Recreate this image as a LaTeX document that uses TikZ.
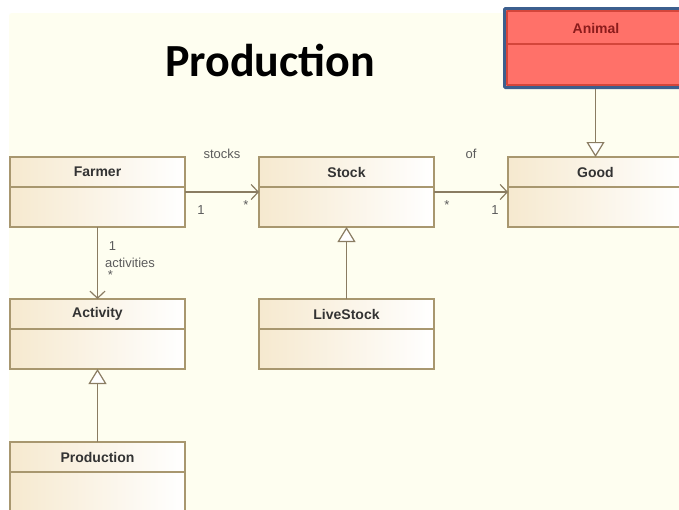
\documentclass[tikz,border=0pt]{standalone}
\usepackage{fontspec}
\setmainfont{Liberation Sans}
\newfontfamily\titlefont{Carlito}
\usetikzlibrary{arrows.meta}

\definecolor{paper}{HTML}{FEFEF0}
\definecolor{umlborder}{HTML}{A8976F}
\definecolor{umlfill}{HTML}{F6E9CF}
\definecolor{umlline}{HTML}{8A7C62}
\definecolor{umltext}{HTML}{333333}
\definecolor{animalblue}{HTML}{3C5F8E}
\definecolor{animalred}{HTML}{FF7169}
\definecolor{animaledge}{HTML}{D4463B}
\definecolor{animaltext}{HTML}{8C1C1C}

\tikzset{
  classbox/.style={draw=umlborder, line width=1.2pt, left color=umlfill, right color=white,
    minimum width=175pt, minimum height=70pt, inner sep=0pt, outer sep=0pt, anchor=north west},
  classline/.style={draw=umlborder, line width=1.2pt},
  classname/.style={font=\bfseries\fontsize{14}{16}\selectfont, text=umltext},
  assoc/.style={draw=umlline, line width=1.2pt, -{Straight Barb[length=7pt,width=15pt]}},
  generalize/.style={draw=umlline, line width=1.2pt, -{Triangle[open,length=15pt,width=18pt,fill=white]}},
  rolelabel/.style={font=\fontsize{13}{15}\selectfont, text=umltext!80},
}

% name, left, top, label
\newcommand{\umlclass}[4]{%
  \node[classbox] (#1) at (#2,#3) {};
  \draw[classline] ([yshift=-30pt]#1.north west) -- ([yshift=-30pt]#1.north east);
  \node[classname] (#1-name) at ([yshift=-15pt]#1.north) {#4};
}

\begin{document}
\begin{tikzpicture}[x=1pt,y=-1pt]
  \useasboundingbox (0,0) rectangle (679,509);
  \clip (0,0) rectangle (679,509);
  \fill[white] (0,0) rectangle (679,509);
  \fill[paper, rounded corners=3pt] (9,13) rectangle (700,530);

  % title
  \node[font=\titlefont\bfseries\fontsize{46}{50}\selectfont] (title) at (270,60) {Production};

  % classes
  \umlclass{farmer}{10}{157}{Farmer}
  \umlclass{stock}{259}{157}{Stock}
  \umlclass{good}{508}{157}{Good}
  \umlclass{activity}{10}{299}{Activity}
  \umlclass{livestock}{259}{299}{LiveStock}
  \umlclass{production}{10}{442}{Production}

  % animal (highlighted)
  \node[draw=animalblue, line width=3pt, fill=animalred, rounded corners=1pt,
    minimum width=187pt, minimum height=79pt, anchor=north west] (animal) at (503,7) {};
  \draw[animaledge, line width=1.2pt] ([xshift=4pt,yshift=-4pt]animal.north west) -- ([xshift=-4pt,yshift=-4pt]animal.north east);
  \draw[animaledge, line width=1.2pt] ([xshift=4pt,yshift=-37pt]animal.north west) -- ([xshift=-4pt,yshift=-37pt]animal.north east);
  \draw[animaledge, line width=1.2pt] ([xshift=4pt,yshift=-4pt]animal.north west) -- ([xshift=4pt,yshift=4pt]animal.south west);
  \draw[animaledge, line width=1.2pt] ([xshift=4pt,yshift=4pt]animal.south west) -- ([xshift=-4pt,yshift=4pt]animal.south east);
  \node[classname, text=animaltext] (animal-name) at ([xshift=-2pt,yshift=-21pt]animal.north) {Animal};

  % associations
  \draw[assoc] (farmer.east) -- (stock.west);
  \draw[assoc] (stock.east) -- (good.west);
  \draw[assoc] (farmer.south) -- (activity.north);
  \node[rolelabel] (stocks) at ([xshift=37pt,yshift=38pt]farmer.east) {stocks};
  \node[rolelabel] (farmer-one) at ([xshift=16pt,yshift=-18pt]farmer.east) {1};
  \node[rolelabel] (stock-many) at ([xshift=-13pt,yshift=-13pt]stock.west) {*};
  \node[rolelabel] (of) at ([xshift=37pt,yshift=38pt]stock.east) {of};
  \node[rolelabel] (stock-many2) at ([xshift=13pt,yshift=-13pt]stock.east) {*};
  \node[rolelabel] (good-one) at ([xshift=-13pt,yshift=-18pt]good.west) {1};
  \node[rolelabel] (act-one) at ([xshift=15pt,yshift=-19pt]farmer.south) {1};
  \node[rolelabel, anchor=west] (activities) at ([xshift=4pt,yshift=-36pt]farmer.south) {activities};
  \node[rolelabel] (act-many) at ([xshift=13pt,yshift=-48pt]farmer.south) {*};

  % generalizations
  \draw[generalize] (livestock.north) -- (stock.south);
  \draw[generalize] (production.north) -- (activity.south);
  \draw[generalize] (good.north |- animal.south) -- (good.north);
\end{tikzpicture}
\end{document}
